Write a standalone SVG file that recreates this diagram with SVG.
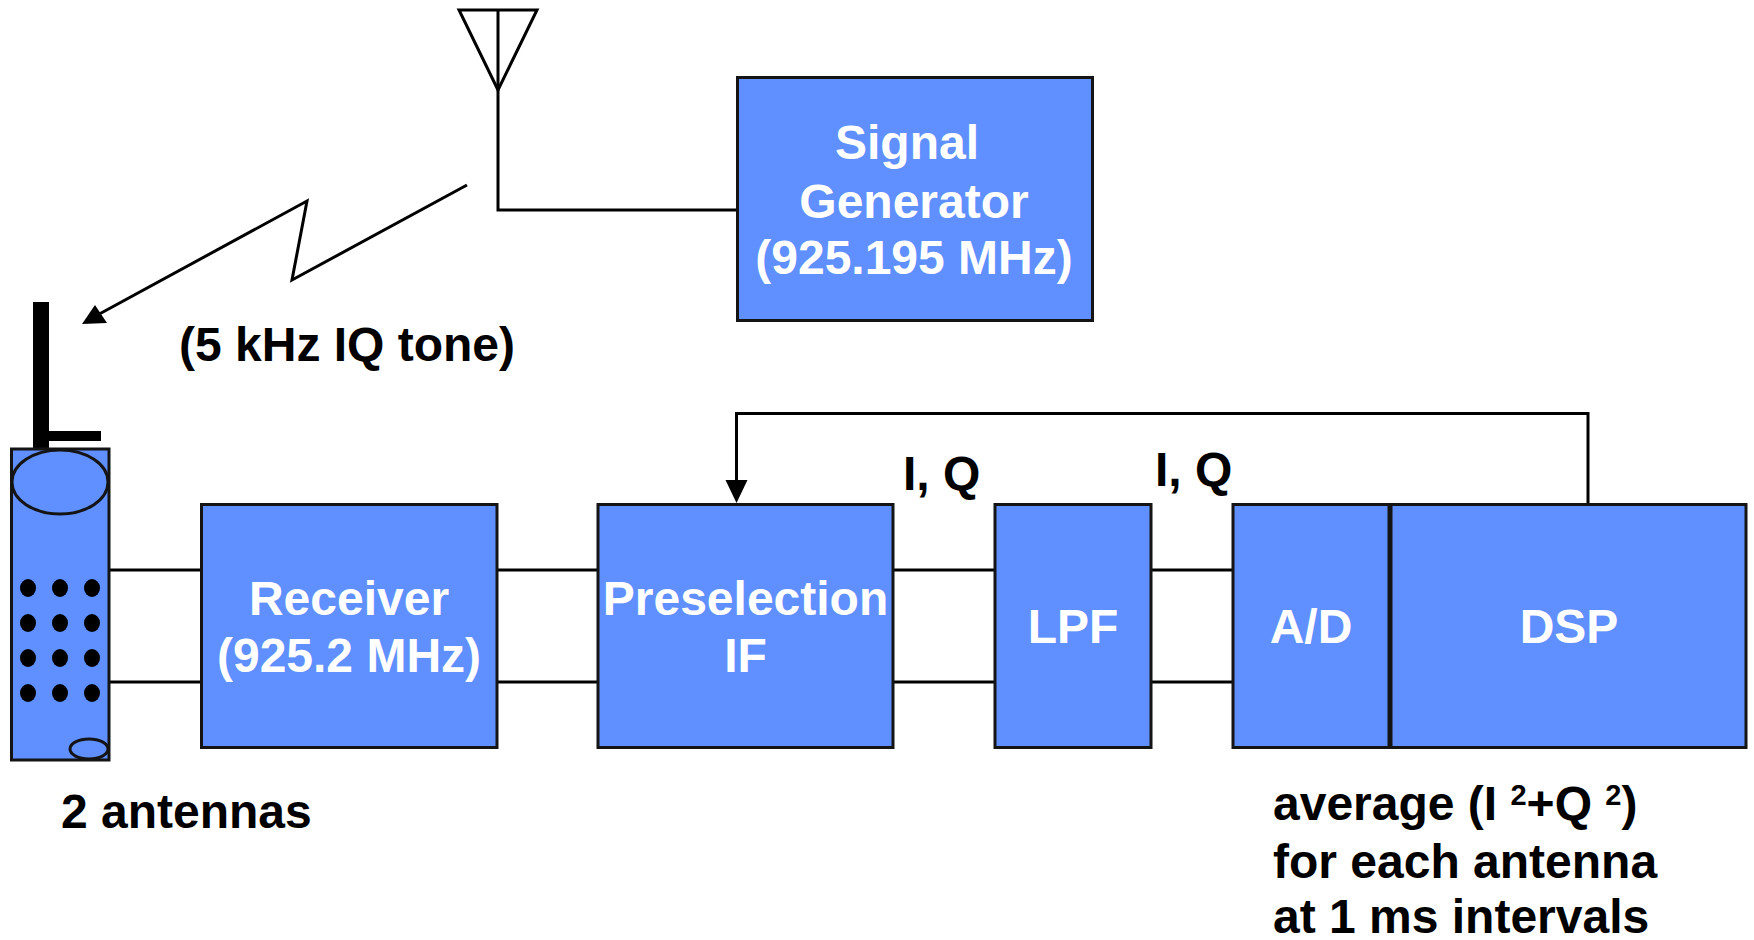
<svg xmlns="http://www.w3.org/2000/svg" width="1754" height="940" viewBox="0 0 1754 940">
<defs>
<style>
.box{fill:#608fff;stroke:#141414;stroke-width:3}
.wire{fill:none;stroke:#000;stroke-width:3}
.thin{fill:none;stroke:#000;stroke-width:3;stroke-linejoin:miter}
text{font-family:"Liberation Sans",Arial,sans-serif;font-weight:700;font-size:48px}
.w{fill:#fff;text-anchor:middle}
.k{fill:#000}
.sup{font-size:29px}
</style>
</defs>
<rect width="1754" height="940" fill="#fff"/>
<g id="connectors">
<path class="wire" d="M498 90V210H737"/>
<path class="wire" d="M467 185L292 280L307 201L92 318"/>
<polygon points="82,324 95,305 107,323" fill="#000"/>
<path class="wire" d="M109 570H201M109 682H201"/>
<path class="wire" d="M497 570H598M497 682H598"/>
<path class="wire" d="M893 570H995M893 682H995"/>
<path class="wire" d="M1151 570H1233M1151 682H1233"/>
<path class="wire" d="M1588 504V413.500H736.500V482"/>
<polygon points="725.500,480 747.500,480 736.500,503" fill="#000"/>
</g>
<g id="antenna">
<polygon class="thin" points="459,10 537,10 498,90"/>
<path class="thin" d="M498 10V90"/>
</g>
<g id="phone">
<rect x="33" y="302" width="16" height="147" fill="#000"/>
<rect x="49" y="431" width="52" height="10" fill="#000"/>
<rect class="box" x="11.500" y="449" width="97.500" height="311"/>
<ellipse class="box" cx="60" cy="482" rx="48" ry="32"/>
<g fill="#000">
<ellipse cx="28" cy="588" rx="8" ry="9"/><ellipse cx="60" cy="588" rx="8" ry="9"/><ellipse cx="92" cy="588" rx="8" ry="9"/>
<ellipse cx="28" cy="623" rx="8" ry="9"/><ellipse cx="60" cy="623" rx="8" ry="9"/><ellipse cx="92" cy="623" rx="8" ry="9"/>
<ellipse cx="28" cy="658" rx="8" ry="9"/><ellipse cx="60" cy="658" rx="8" ry="9"/><ellipse cx="92" cy="658" rx="8" ry="9"/>
<ellipse cx="28" cy="693" rx="8" ry="9"/><ellipse cx="60" cy="693" rx="8" ry="9"/><ellipse cx="92" cy="693" rx="8" ry="9"/>
</g>
<ellipse class="box" cx="89" cy="749" rx="19" ry="10"/>
</g>
<g id="signal-generator">
<rect class="box" x="737.500" y="77.500" width="355" height="243"/>
<text class="w" x="907" y="159">Signal</text>
<text class="w" x="914" y="218">Generator</text>
<text class="w" x="914" y="274">(925.195 MHz)</text>
</g>
<g id="receiver">
<rect class="box" x="201.500" y="504.500" width="295.500" height="243"/>
<text class="w" x="349" y="615">Receiver</text>
<text class="w" x="349" y="672">(925.2 MHz)</text>
</g>
<g id="preselection">
<rect class="box" x="598" y="504.500" width="295" height="243"/>
<text class="w" x="745.500" y="615">Preselection</text>
<text class="w" x="745.500" y="672">IF</text>
</g>
<g id="lpf">
<rect class="box" x="995" y="504.500" width="156" height="243"/>
<text class="w" x="1073" y="643">LPF</text>
</g>
<g id="ad">
<rect class="box" x="1233" y="504.500" width="156" height="243"/>
<text class="w" x="1311" y="643">A/D</text>
</g>
<g id="dsp">
<rect class="box" x="1391" y="504.500" width="355" height="243"/>
<text class="w" x="1569" y="643">DSP</text>
</g>
<g id="labels">
<text class="k" x="179" y="361">(5 kHz IQ tone)</text>
<text class="k" x="903" y="490">I, Q</text>
<text class="k" x="1155" y="485.500">I, Q</text>
<text class="k" x="61" y="828">2 antennas</text>
<text class="k" x="1273" y="820">average (I <tspan class="sup" dy="-15">2</tspan><tspan dy="15">+Q </tspan><tspan class="sup" dy="-15">2</tspan><tspan dy="15">)</tspan></text>
<text class="k" x="1273" y="878">for each antenna</text>
<text class="k" x="1273" y="933">at 1 ms intervals</text>
</g>
</svg>
